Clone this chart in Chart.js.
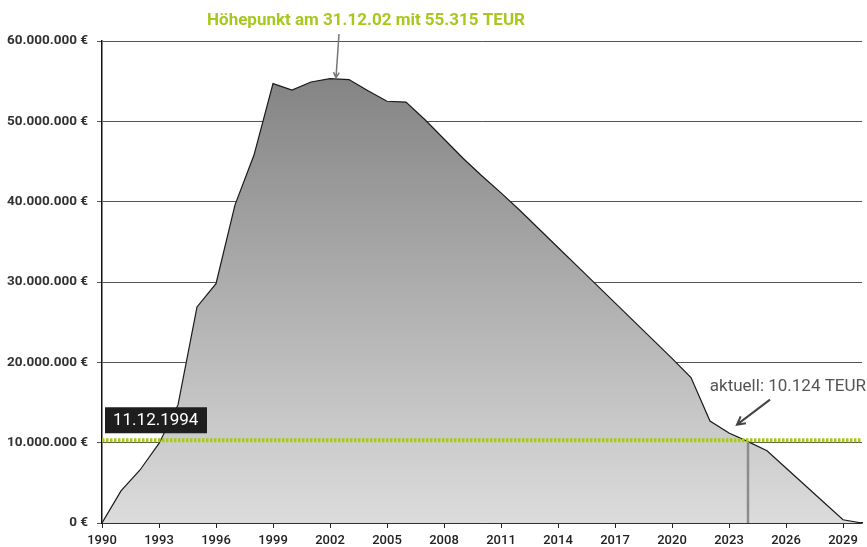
<!DOCTYPE html>
<html>
<head>
<meta charset="utf-8">
<script src="https://cdn.jsdelivr.net/npm/chart.js@4.4.1/dist/chart.umd.min.js"></script>
<style>
  html, body { margin: 0; padding: 0; background: #fff; }
  #wrap { width: 867px; height: 547px; }
</style>
</head>
<body>
<div id="wrap"><canvas id="chart"></canvas></div>
<script>
// Jahreswerte (Stichtag jeweils Jahresende), in €
const years = [1990, 1991, 1992, 1993, 1994, 1995, 1996, 1997, 1998, 1999,
               2000, 2001, 2002, 2003, 2004, 2005, 2006, 2007, 2008, 2009,
               2010, 2011, 2012, 2013, 2014, 2015, 2016, 2017, 2018, 2019,
               2020, 2021, 2022, 2023, 2024, 2025, 2026, 2027, 2028, 2029, 2030];
const values = [0, 4000000, 6600000, 9900000, 14700000, 26900000, 29800000, 39600000, 45800000, 54700000,
                53900000, 54900000, 55315000, 55200000, 53800000, 52500000, 52400000, 50200000, 47800000, 45400000,
                43200000, 41100000, 38900000, 36600000, 34300000, 32000000, 29700000, 27400000, 25100000, 22800000,
                20500000, 18100000, 12700000, 11200000, 10124000, 9000000, 6850000, 4700000, 2550000, 400000, 0];

const yearTicks = [1990, 1993, 1996, 1999, 2002, 2005, 2008, 2011, 2014, 2017, 2020, 2023, 2026, 2029];
const valueTicks = [0, 10000000, 20000000, 30000000, 40000000, 50000000, 60000000];

const peakYear = 2002;
const peakValue = 55315000;
const currentYear = 2024;
const currentValue = 10124000;
const thresholdValue = 10300000;

const peakText = 'Höhepunkt am 31.12.02 mit 55.315 TEUR';
const currentText = 'aktuell: 10.124 TEUR';
const dateText = '11.12.1994';

const green = '#a8c81e';

function formatEuro(v) {
    return String(Math.round(v)).replace(/\B(?=(\d{3})+(?!\d))/g, '.') + ' €';
}

function arrow(ctx, x1, y1, x2, y2, head) {
    const a = Math.atan2(y2 - y1, x2 - x1);
    ctx.beginPath();
    ctx.moveTo(x1, y1);
    ctx.lineTo(x2, y2);
    ctx.moveTo(x2 - head * Math.cos(a - 0.5), y2 - head * Math.sin(a - 0.5));
    ctx.lineTo(x2, y2);
    ctx.lineTo(x2 - head * Math.cos(a + 0.5), y2 - head * Math.sin(a + 0.5));
    ctx.stroke();
}

// Beschriftungen, Pfeile und Datumsbox
const annotations = {
    id: 'annotations',
    afterDatasetsDraw(chart) {
        const ctx = chart.ctx;
        const xs = chart.scales.x;
        const ys = chart.scales.y;
        const area = chart.chartArea;

        ctx.save();

        // Höhepunkt
        const px = xs.getPixelForValue(peakYear) + 6;
        const py = ys.getPixelForValue(peakValue);
        ctx.fillStyle = green;
        ctx.font = 'bold 17px Roboto';
        ctx.textAlign = 'center';
        ctx.textBaseline = 'middle';
        ctx.fillText(peakText, px + 30, 21);
        ctx.strokeStyle = '#777';
        ctx.lineWidth = 1.5;
        arrow(ctx, px + 3, 34, px, py - 1, 6);

        // aktueller Wert
        const cx = xs.getPixelForValue(currentYear);
        const cy = ys.getPixelForValue(currentValue);
        ctx.strokeStyle = '#444';
        ctx.lineWidth = 2;
        arrow(ctx, cx + 22, cy - 42, cx - 11, cy - 17, 9);
        ctx.fillStyle = '#555';
        ctx.font = '17px Roboto';
        ctx.textAlign = 'right';
        ctx.fillText(currentText, chart.width - 1, cy - 55);

        // Datumsbox
        const ty = ys.getPixelForValue(thresholdValue);
        ctx.fillStyle = '#1e1e1e';
        ctx.fillRect(area.left + 3, ty - 33, 102, 26);
        ctx.fillStyle = '#fff';
        ctx.font = '17px Roboto';
        ctx.textAlign = 'left';
        ctx.fillText(dateText, area.left + 11, ty - 19.5);

        ctx.restore();
    }
};

const ctx = document.getElementById('chart').getContext('2d');

new Chart(ctx, {
    type: 'line',
    data: {
        datasets: [
            {
                // grüne Linie
                data: [{ x: years[0], y: thresholdValue }, { x: years[years.length - 1], y: thresholdValue }],
                borderColor: green,
                borderWidth: 4,
                borderDash: [2.5, 1.5],
                pointRadius: 0,
                fill: false
            },
            {
                // senkrechte Linie beim aktuellen Wert
                data: [{ x: currentYear, y: 0 }, { x: currentYear, y: currentValue }],
                borderColor: '#8c8c8c',
                borderWidth: 2.5,
                pointRadius: 0,
                fill: false
            },
            {
                data: years.map((y, i) => ({ x: y, y: values[i] })),
                borderColor: '#1a1a1a',
                borderWidth: 1.2,
                pointRadius: 0,
                tension: 0,
                fill: 'origin',
                backgroundColor: function(context) {
                    const chart = context.chart;
                    const area = chart.chartArea;
                    if (!area) return '#aaa';
                    const top = chart.scales.y.getPixelForValue(peakValue);
                    const g = chart.ctx.createLinearGradient(0, top, 0, area.bottom);
                    g.addColorStop(0, '#848484');
                    g.addColorStop(1, '#dcdcdc');
                    return g;
                }
            }
        ]
    },
    options: {
        responsive: true,
        maintainAspectRatio: false,
        animation: false,
        layout: {
            padding: { top: 41, right: 5, left: 0, bottom: 0 }
        },
        plugins: {
            legend: { display: false },
            tooltip: { enabled: false }
        },
        scales: {
            x: {
                type: 'linear',
                min: 1990,
                max: 2030,
                afterBuildTicks: s => { s.ticks = yearTicks.map(v => ({ value: v })); },
                afterFit: s => { s.height = 24; },
                grid: {
                    drawOnChartArea: false,
                    tickLength: 5,
                    color: '#222'
                },
                border: { color: '#111', width: 1.5 },
                ticks: {
                    color: '#222',
                    font: { family: 'Roboto', size: 13, weight: '500' },
                    padding: 5,
                    maxRotation: 0,
                    autoSkip: false,
                    callback: v => String(v)
                }
            },
            y: {
                min: 0,
                max: 60000000,
                afterBuildTicks: s => { s.ticks = valueTicks.map(v => ({ value: v })); },
                afterFit: s => { s.width = 102; },
                grid: {
                    color: '#555',
                    tickLength: 5
                },
                border: { color: '#111', width: 1.5 },
                ticks: {
                    color: '#333',
                    font: { family: 'Roboto', size: 13.5, weight: 'bold' },
                    padding: 9,
                    callback: v => formatEuro(v)
                }
            }
        }
    },
    plugins: [annotations]
});
</script>
</body>
</html>
